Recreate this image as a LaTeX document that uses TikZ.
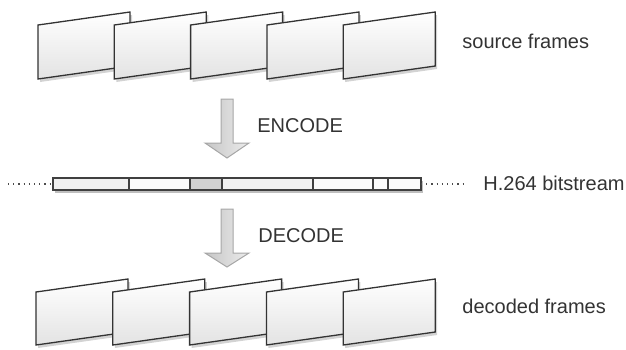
\documentclass[tikz,border=0pt]{standalone}
\usepackage{fontspec}
\setmainfont{Liberation Sans}
\usetikzlibrary{positioning, shadows}
\tikzset{
  frame/.style={draw=black!80, line width=0.65pt, top color=white, bottom color=gray!22,
    drop shadow={shadow xshift=1pt, shadow yshift=-1.5pt, opacity=0.35}},
  seg/.style={rectangle, draw=black!75, line width=0.6pt, minimum height=6pt, inner sep=0pt, outer sep=0pt},
  caption/.style={font=\fontsize{10}{12}\selectfont, text=black!80, anchor=base west, inner sep=0pt},
  bigarrow/.style={draw=gray!70, line width=0.5pt, left color=gray!45, right color=gray!15},
  dots/.style={dotted, line width=0.6pt, black!70},
}
\begin{document}
\begin{tikzpicture}[x=0.5pt, y=-0.5pt]
  \useasboundingbox (0,0) rectangle (626,349);

  % Source frames
  \foreach \i in {0,...,4} {
    \pgfmathsetmacro\fx{38+76.3*\i}
    \path[frame] (\fx,25) -- ++(92,-13) -- ++(0,54) -- ++(-92,13) -- cycle;
  }
  \node[caption] (src) at (462,48) {source frames};

  % Encode arrow
  \path[bigarrow] (221,99) -- (233,99) -- (233,143) -- (249,143) -- (227,158)
    -- (205,143) -- (221,143) -- cycle;
  \node[caption] (enc) at (257,132) {ENCODE};

  % Bitstream
  \fill[black, opacity=0.25] (55,181) rectangle (423,193);
  \node[seg, fill=gray!12, minimum width=38pt, anchor=west] (s1) at (53,184) {};
  \node[seg, fill=gray!3, minimum width=30.5pt, right=0pt of s1] (s2) {};
  \node[seg, fill=gray!35, minimum width=16pt, right=0pt of s2] (s3) {};
  \node[seg, fill=gray!10, minimum width=45.5pt, right=0pt of s3] (s4) {};
  \node[seg, fill=gray!3, minimum width=30pt, right=0pt of s4] (s5) {};
  \node[seg, fill=gray!3, minimum width=7.5pt, right=0pt of s5] (s6) {};
  \node[seg, fill=gray!3, minimum width=16.5pt, right=0pt of s6] (s7) {};
  \coordinate (lend) at (8,184);
  \coordinate (rend) at (463,184);
  \draw[dots] (lend) -- (s1.west);
  \draw[dots] (s7.east) -- (rend);
  \node[caption] (bits) at (483,190) {H.264 bitstream};

  % Decode arrow
  \path[bigarrow] (221,209) -- (233,209) -- (233,253) -- (249,253) -- (227,267)
    -- (205,253) -- (221,253) -- cycle;
  \node[caption] (dec) at (258,242) {DECODE};

  % Decoded frames
  \foreach \i in {0,...,4} {
    \pgfmathsetmacro\fx{36+76.8*\i}
    \path[frame] (\fx,292) -- ++(92,-13) -- ++(0,53) -- ++(-92,13) -- cycle;
  }
  \node[caption] (out) at (462,313) {decoded frames};

\end{tikzpicture}
\end{document}
